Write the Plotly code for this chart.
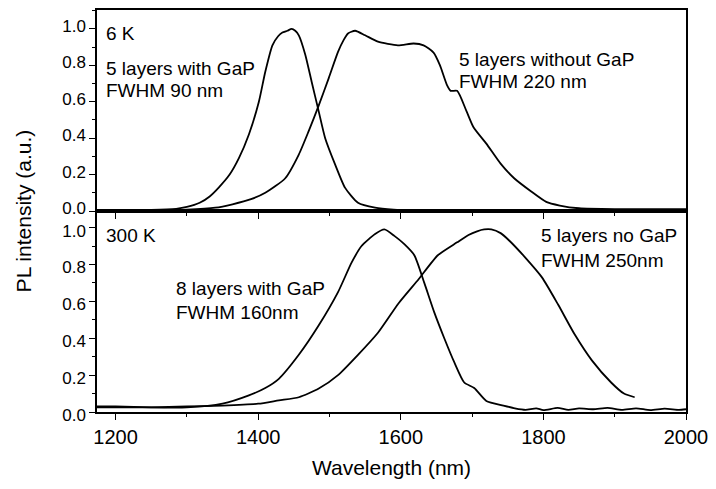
import plotly.graph_objects as go

# ---- Data ----
# Top panel (6 K)
wl_6k_gap = [1174, 1200, 1250, 1285, 1300, 1318, 1332, 1345, 1360, 1373, 1387, 1401, 1410, 1420, 1428,
             1434, 1441, 1447, 1452, 1457, 1466, 1475, 1485, 1494, 1508, 1522, 1540, 1564, 1590, 1620, 1660]
pl_6k_gap = [0.005, 0.005, 0.006, 0.012, 0.022, 0.045, 0.08, 0.13, 0.2, 0.29, 0.42, 0.60, 0.765, 0.91, 0.96,
             0.98, 0.99, 1.0, 0.99, 0.965, 0.86, 0.71, 0.546, 0.40, 0.255, 0.127, 0.045, 0.018, 0.008, 0.005, 0.005]

wl_6k_nogap = [1174, 1250, 1300, 1340, 1364, 1390, 1410, 1438, 1457, 1471, 1485, 1499, 1512, 1520, 1526,
               1536, 1550, 1568, 1596, 1618, 1632, 1646, 1655, 1665, 1670, 1679, 1692, 1702, 1720, 1740,
               1759, 1782, 1804, 1823, 1850, 1900, 1950, 2000]
pl_6k_nogap = [0.005, 0.005, 0.008, 0.018, 0.037, 0.065, 0.10, 0.18, 0.31, 0.44, 0.58, 0.73, 0.874, 0.94,
               0.975, 0.99, 0.965, 0.93, 0.91, 0.92, 0.91, 0.87, 0.80, 0.69, 0.66, 0.66, 0.55, 0.46, 0.37,
               0.26, 0.18, 0.11, 0.05, 0.03, 0.015, 0.01, 0.01, 0.01]

# Bottom panel (300 K)
wl_300k_gap = [1174, 1200, 1250, 1300, 1350, 1387, 1410, 1429, 1457, 1485, 1512, 1531, 1545, 1564,
               1577, 1591, 1605, 1619, 1633, 1647, 1661, 1675, 1689, 1703, 1720, 1744, 1760, 1775,
               1790, 1800, 1820, 1835, 1850, 1870, 1890, 1910, 1930, 1950, 1970, 1990, 2000]
pl_300k_gap = [0.03, 0.03, 0.025, 0.025, 0.045, 0.09, 0.13, 0.18, 0.31, 0.47, 0.65, 0.81, 0.90, 0.965,
               0.99, 0.955, 0.91, 0.85, 0.70, 0.54, 0.40, 0.27, 0.16, 0.13, 0.06, 0.035, 0.02, 0.012,
               0.02, 0.01, 0.022, 0.012, 0.02, 0.015, 0.022, 0.012, 0.02, 0.01, 0.018, 0.012, 0.015]

wl_300k_nogap = [1174, 1250, 1300, 1350, 1400, 1429, 1457, 1485, 1512, 1540, 1568, 1597, 1625, 1652,
                 1679, 1695, 1707, 1717, 1727, 1740, 1752, 1774, 1798, 1821, 1844, 1868, 1895, 1913, 1928]
pl_300k_nogap = [0.025, 0.025, 0.03, 0.035, 0.045, 0.063, 0.08, 0.127, 0.20, 0.31, 0.43, 0.59, 0.72, 0.85,
                 0.92, 0.96, 0.98, 0.99, 0.99, 0.97, 0.93, 0.84, 0.73, 0.58, 0.42, 0.28, 0.16, 0.10, 0.08]

x_range = [1174, 2000]
y_ticks = [0.0, 0.2, 0.4, 0.6, 0.8, 1.0]
x_ticks = [1200, 1400, 1600, 1800, 2000]

FONT = "Liberation Sans, Arial, sans-serif"
line = dict(color="black", width=1.8, shape="spline", smoothing=0.6)

fig = go.Figure()
fig.add_trace(go.Scatter(x=wl_6k_gap, y=pl_6k_gap, mode="lines", line=line, xaxis="x", yaxis="y"))
fig.add_trace(go.Scatter(x=wl_6k_nogap, y=pl_6k_nogap, mode="lines", line=line, xaxis="x", yaxis="y"))
fig.add_trace(go.Scatter(x=wl_300k_gap, y=pl_300k_gap, mode="lines", line=line, xaxis="x2", yaxis="y2"))
fig.add_trace(go.Scatter(x=wl_300k_nogap, y=pl_300k_nogap, mode="lines", line=line, xaxis="x2", yaxis="y2"))

common_x = dict(range=x_range, showgrid=False, zeroline=False, showline=True, linecolor="black",
                linewidth=1.5, mirror=True, tickvals=x_ticks, ticklen=6, tickwidth=1.3,
                tickcolor="black", ticks="outside",
                minor=dict(dtick=100, tick0=1200, ticks="outside", ticklen=3, tickwidth=1.2, tickcolor="black"),
                tickfont=dict(family=FONT, size=20, color="black"))
common_y = dict(showgrid=False, zeroline=False, showline=True, linecolor="black", linewidth=1.5,
                mirror=True, tickvals=y_ticks, tickformat=".1f", ticks="outside", ticklen=6,
                tickwidth=1.3, tickcolor="black",
                minor=dict(dtick=0.1, tick0=0, ticks="outside", ticklen=3, tickwidth=1.2, tickcolor="black"),
                tickfont=dict(family=FONT, size=17, color="black"))

fig.update_layout(
    width=716, height=489,
    margin=dict(l=97, r=26, t=8, b=77),
    paper_bgcolor="white", plot_bgcolor="white",
    showlegend=False,
    font=dict(family=FONT, color="black"),
    xaxis=dict(common_x, anchor="y", showticklabels=False),
    yaxis=dict(common_y, domain=[0.5, 1.0], range=[0, 1.104], anchor="x", ticklabelshift=-3),
    xaxis2=dict(common_x, anchor="y2",
                title=dict(text="Wavelength (nm)", font=dict(family=FONT, size=21, color="black"), standoff=14)),
    yaxis2=dict(common_y, domain=[0.0, 0.5], range=[0, 1.09], anchor="x2", ticklabelshift=3),
    xaxis3=dict(range=x_range, overlaying="x", anchor="y", side="top", showgrid=False, zeroline=False,
                showline=False, showticklabels=False, tickvals=x_ticks, ticks="inside", ticklen=6,
                tickwidth=1.3, tickcolor="black",
                minor=dict(dtick=100, tick0=1200, ticks="inside", ticklen=6, tickwidth=1.2, tickcolor="black")),
)

fig.add_annotation(text="PL intensity (a.u.)", xref="paper", yref="paper", x=-0.125, y=0.5,
                   xanchor="center", yanchor="middle", textangle=-90, showarrow=False,
                   font=dict(family=FONT, size=21, color="black"))

ann_font = dict(family=FONT, size=19, color="black")
labels = [
    ("6 K", 1186.8, 0.973, "x", "y"),
    ("5 layers with GaP", 1186.8, 0.781, "x", "y"),
    ("FWHM 90 nm", 1186.8, 0.661, "x", "y"),
    ("5 layers without GaP", 1682.3, 0.831, "x", "y"),
    ("FWHM 220 nm", 1682.3, 0.71, "x", "y"),
    ("300 K", 1186.8, 0.955, "x2", "y2"),
    ("8 layers with GaP", 1284.2, 0.669, "x2", "y2"),
    ("FWHM 160nm", 1284.2, 0.539, "x2", "y2"),
    ("5 layers no GaP", 1796.4, 0.955, "x2", "y2"),
    ("FWHM 250nm", 1796.4, 0.82, "x2", "y2"),
]
for t, xv, yv, xr, yr in labels:
    fig.add_annotation(text=t, x=xv, y=yv, xref=xr, yref=yr, xanchor="left", yanchor="middle",
                       showarrow=False, font=ann_font, xshift=-2)

fig.write_html("out.html")
